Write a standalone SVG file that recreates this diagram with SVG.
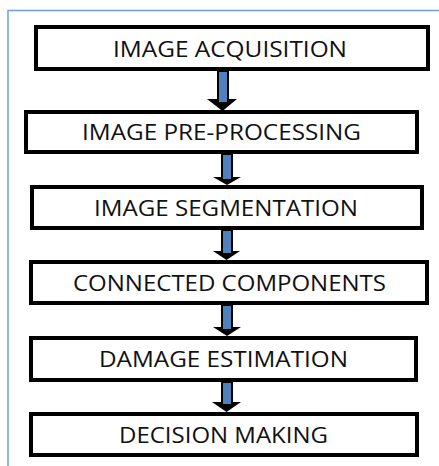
<svg xmlns="http://www.w3.org/2000/svg" width="439" height="466" viewBox="0 0 439 466">
<style>
.box{fill:#fff;stroke:#000;stroke-width:4}
.lbl{font-family:"Open Sans","Liberation Sans",sans-serif;font-size:21px;fill:#111;text-anchor:middle}
.head{fill:#000}
.shaft{fill:#4f81bd;stroke:#000;stroke-width:2}
.frame{fill:none;stroke:#6d9fdc;stroke-width:1.5}
</style>
<rect width="439" height="466" fill="#fff"/>
<path class="frame" d="M8 466 V10.5 H439"/>
<g id="connectors">
<g><polygon class="head" points="207,99 237,99 222.5,111"/><rect class="shaft" x="218" y="71" width="10" height="32"/></g>
<g><polygon class="head" points="213,177 241,177 227,185"/><rect class="shaft" x="222" y="154" width="10" height="26"/></g>
<g><polygon class="head" points="213,251 240,251 226.5,260"/><rect class="shaft" x="222" y="230" width="10" height="24"/></g>
<g><polygon class="head" points="213,327 241,327 227,336"/><rect class="shaft" x="222" y="305" width="10" height="25"/></g>
<g><polygon class="head" points="212,402 241,402 226.5,412"/><rect class="shaft" x="222" y="382" width="10" height="23"/></g>
</g>
<g id="n1"><rect class="box" x="36" y="27" width="392" height="42"/><text class="lbl" x="230" y="57" textLength="234" lengthAdjust="spacingAndGlyphs">IMAGE ACQUISITION</text></g>
<g id="n2"><rect class="box" x="26" y="112" width="391" height="40"/><text class="lbl" x="221.5" y="140" textLength="279" lengthAdjust="spacingAndGlyphs">IMAGE PRE-PROCESSING</text></g>
<g id="n3"><rect class="box" x="32" y="187" width="390" height="41"/><text class="lbl" x="226" y="216" textLength="264" lengthAdjust="spacingAndGlyphs">IMAGE SEGMENTATION</text></g>
<g id="n4"><rect class="box" x="31" y="262" width="396" height="41"/><text class="lbl" x="229.5" y="291" textLength="313" lengthAdjust="spacingAndGlyphs">CONNECTED COMPONENTS</text></g>
<g id="n5"><rect class="box" x="31" y="338" width="385" height="42"/><text class="lbl" x="223.5" y="367" textLength="249" lengthAdjust="spacingAndGlyphs">DAMAGE ESTIMATION</text></g>
<g id="n6"><rect class="box" x="31" y="414" width="386" height="41"/><text class="lbl" x="223.5" y="443" textLength="209" lengthAdjust="spacingAndGlyphs">DECISION MAKING</text></g>
</svg>
